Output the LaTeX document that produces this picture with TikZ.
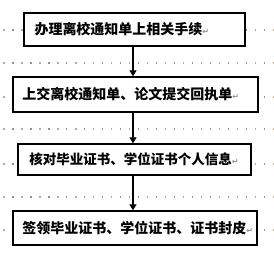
\documentclass[tikz,border=0pt]{standalone}
\usepackage{fontspec}
\newfontfamily\cjk{Noto Sans CJK SC}
\newfontfamily\symfont{DejaVu Sans}
\usetikzlibrary{arrows.meta, shadows}

\newcommand{\retmark}{{\symfont\fontsize{8}{8}\selectfont\color{markColour}↵}}

\begin{document}
\begin{tikzpicture}[x=1pt, y=-1pt,
    stepbox/.style={draw=borderColour, line width=1.4pt, fill=white, inner sep=0pt,
        drop shadow={shadow xshift=1pt, shadow yshift=-1pt, fill=shadowColour, opacity=1}},
    steplabel/.style={anchor=west, inner sep=0pt, font=\cjk\bfseries\fontsize{14}{14}\selectfont},
    flow/.style={draw=borderColour, line width=1.3pt, -{Triangle[length=6pt, width=7pt]}},
    gridDot/.style={line width=1.5pt, dash pattern=on 1.5pt off 16.5pt}]
    % Define colours
    \definecolor{borderColour}{HTML}{000000}
    \definecolor{shadowColour}{HTML}{808080}
    \definecolor{markColour}{HTML}{909090}
    \definecolor{dotTan}{HTML}{C8A884}
    \definecolor{dotBlue}{HTML}{8C8CB8}

    % Fix picture size
    \useasboundingbox (0,0) rectangle (274,263);

    % Draw text grid dots
    \foreach \y in {30,63,97,129,164,197,230} {
        \draw[gridDot, dotTan, dash phase=15pt] (0,\y) -- (274,\y);
        \draw[gridDot, dotBlue, dash phase=6pt] (0,\y) -- (274,\y);
    }

    % Draw step boxes
    \node[stepbox, minimum width=221pt, minimum height=33pt] (leave) at (134.5,29.5) {};
    \node[stepbox, minimum width=245pt, minimum height=35pt] (submit) at (135.5,94.5) {};
    \node[stepbox, minimum width=233pt, minimum height=31pt] (verify) at (134.5,159.5) {};
    \node[stepbox, minimum width=244pt, minimum height=34pt] (collect) at (135,228) {};

    % Label the step boxes
    \node[steplabel] (leaveText) at ([xshift=11pt]leave.west) {办理离校通知单上相关手续\retmark};
    \node[steplabel] (submitText) at ([xshift=10pt]submit.west) {上交离校通知单、论文提交回执单\retmark};
    \node[steplabel, font=\cjk\bfseries\fontsize{13.5}{13.5}\selectfont] (verifyText) at ([xshift=12pt]verify.west) {核对毕业证书、学位证书个人信息\retmark};
    \node[steplabel] (collectText) at ([xshift=10pt]collect.west) {签领毕业证书、学位证书、证书封皮\retmark};

    % Draw arrows between steps
    \coordinate (spine) at ([xshift=-1.5pt]leave.south);
    \draw[flow] (spine) -- (spine |- submit.north);
    \draw[flow] (spine |- submit.south) -- (spine |- verify.north);
    \draw[flow] (spine |- verify.south) -- (spine |- collect.north);

\end{tikzpicture}
\end{document}
